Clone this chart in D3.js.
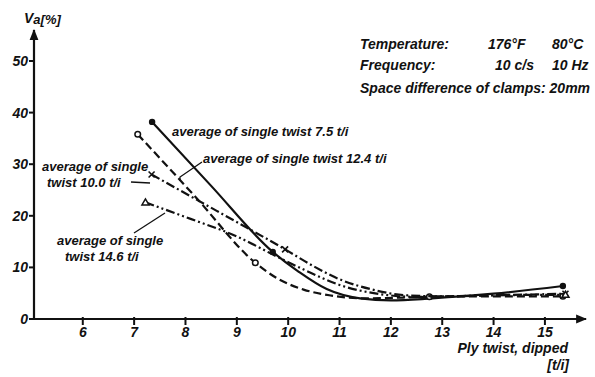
<!DOCTYPE html>
<html>
<head>
<meta charset="utf-8">
<script src="https://cdn.jsdelivr.net/npm/d3@7"></script>
<style>
  body { margin: 0; background: #fff; }
  svg { display: block; }
  text { font-family: "Liberation Sans", Arial, sans-serif; font-style: italic; font-weight: bold; fill: #111; }
</style>
</head>
<body>
<svg id="chart" width="595" height="377"></svg>
<script>
// ply twist ticks and Va ticks
var xTicks = [6, 7, 8, 9, 10, 11, 12, 13, 14, 15];
var yTicks = [0, 10, 20, 30, 40, 50];

// single twist 7.5 t/i  (solid, filled dot)
var s75x = [7.35, 8.5, 9.7, 10.2, 10.75, 11.4, 12.0, 12.8, 14.0, 15.35];
var s75y = [38.2, 25.8, 13.0, 9.2, 5.8, 4.0, 3.6, 4.0, 4.9, 6.4];
var s75mark = [0, 2, 9];

// single twist 12.4 t/i (dashed, open circle)
var s124x = [7.07, 8.2, 9.36, 9.8, 10.3, 10.8, 11.5, 12.75, 14.0, 15.35];
var s124y = [35.8, 23.6, 10.9, 7.8, 5.7, 4.6, 4.0, 4.3, 4.4, 4.4];
var s124mark = [0, 2, 7, 9];

// single twist 10.0 t/i (dash-dot, cross)
var s100x = [7.34, 8.6, 9.94, 10.5, 11.0, 11.6, 12.3, 13.0, 14.0, 15.4];
var s100y = [28.0, 21.0, 13.5, 10.2, 7.7, 5.8, 4.6, 4.4, 4.6, 4.9];
var s100mark = [0, 2, 9];

// single twist 14.6 t/i (dash-dot-dot, triangle)
var s146x = [7.22, 8.1, 9.0, 9.8, 10.3, 11.0, 11.8, 12.5, 14.0, 15.4];
var s146y = [22.6, 19.4, 16.0, 12.0, 9.6, 6.6, 4.8, 4.3, 4.6, 4.7];
var s146mark = [0, 9];

var svg = d3.select("#chart");

var x = d3.scaleLinear().domain([5.05, 15.8]).range([34, 586]);
var y = d3.scaleLinear().domain([0, 50]).range([319, 61]);

// arrow heads
var defs = svg.append("defs");
defs.append("marker")
    .attr("id", "arrow")
    .attr("viewBox", "0 0 10 10")
    .attr("refX", 9).attr("refY", 5)
    .attr("markerWidth", 5).attr("markerHeight", 5)
    .attr("orient", "auto")
  .append("path")
    .attr("d", "M0,1 L10,5 L0,9 Z")
    .attr("fill", "#111");

// axes lines
svg.append("line")
    .attr("x1", x(5.05)).attr("x2", x(5.05))
    .attr("y1", y(0)).attr("y2", y(56))
    .attr("stroke", "#111").attr("stroke-width", 2.2)
    .attr("marker-end", "url(#arrow)");
svg.append("line")
    .attr("x1", x(5.05)).attr("x2", x(15.8))
    .attr("y1", y(0)).attr("y2", y(0))
    .attr("stroke", "#111").attr("stroke-width", 2.2)
    .attr("marker-end", "url(#arrow)");

// y ticks
var yAxis = svg.append("g").classed("y-ticks", true);
yAxis.selectAll("line")
    .data(yTicks)
  .enter().append("line")
    .attr("x1", x(5.05) - 5)
    .attr("x2", d => d === 0 ? x(5.05) + 3 : x(5.05))
    .attr("y1", d => y(d)).attr("y2", d => y(d))
    .attr("stroke", "#111").attr("stroke-width", 2);
yAxis.selectAll("text")
    .data(yTicks)
  .enter().append("text")
    .text(d => d)
    .attr("x", x(5.05) - 6)
    .attr("y", d => y(d))
    .attr("dy", ".35em")
    .attr("text-anchor", "end")
    .attr("font-size", "14px");

// x ticks
var xAxis = svg.append("g").classed("x-ticks", true);
xAxis.selectAll("line")
    .data(xTicks)
  .enter().append("line")
    .attr("x1", d => x(d)).attr("x2", d => x(d))
    .attr("y1", y(0) - 2).attr("y2", y(0) + 6)
    .attr("stroke", "#111").attr("stroke-width", 2);
xAxis.selectAll("text")
    .data(xTicks)
  .enter().append("text")
    .text(d => d)
    .attr("x", d => x(d))
    .attr("y", y(0) + 13)
    .attr("dy", ".35em")
    .attr("text-anchor", "middle")
    .attr("font-size", "14px");

// axis titles
var yt = svg.append("text")
    .attr("x", 24).attr("y", 23)
    .attr("font-size", "14px");
yt.append("tspan").text("V");
yt.append("tspan").attr("font-size", "13px").attr("dy", 1).text("a[%]");

svg.append("text").text("Ply twist, dipped")
    .attr("x", 568).attr("y", 353)
    .attr("text-anchor", "end")
    .attr("font-size", "14px");
svg.append("text").text("[t/i]")
    .attr("x", 569).attr("y", 370)
    .attr("text-anchor", "end")
    .attr("font-size", "14px");

// test conditions
var cond = [
  ["Temperature:", "176\u00b0F", "80\u00b0C"],
  ["Frequency:", "10 c/s", "10 Hz"],
  ["Space difference of clamps:  20mm", "", ""]
];
var condG = svg.append("g").classed("conditions", true);
condG.selectAll("g")
    .data(cond)
  .enter().append("g")
    .each(function(d, i){
      var g = d3.select(this);
      var ty = [49, 70, 93][i];
      g.append("text").text(d[0]).attr("x", 360).attr("y", ty).attr("font-size", "14px");
      g.append("text").text(d[1]).attr("x", i === 0 ? 488 : 495).attr("y", ty).attr("font-size", "14px");
      g.append("text").text(d[2]).attr("x", 552).attr("y", ty).attr("font-size", "14px");
    });

// curves
var series = [
  { xs: s75x, ys: s75y, mark: s75mark, dash: null, sym: "dot" },
  { xs: s124x, ys: s124y, mark: s124mark, dash: "8,4", sym: "circle" },
  { xs: s100x, ys: s100y, mark: s100mark, dash: "9,3,2,3", sym: "cross" },
  { xs: s146x, ys: s146y, mark: s146mark, dash: "9,3,2,3,2,3", sym: "tri" }
];

var line = d3.line()
    .x(d => x(d[0]))
    .y(d => y(d[1]))
    .curve(d3.curveMonotoneX);

series.forEach(function(s){
  var pts = s.xs.map((v, i) => [v, s.ys[i]]);
  svg.append("path")
      .attr("d", line(pts))
      .attr("fill", "none")
      .attr("stroke", "#111")
      .attr("stroke-width", 2.2)
      .attr("stroke-dasharray", s.dash);

  var mk = svg.append("g");
  s.mark.forEach(function(i){
    var px = x(s.xs[i]), py = y(s.ys[i]);
    if (s.sym === "dot") {
      mk.append("circle").attr("cx", px).attr("cy", py).attr("r", 3.2).attr("fill", "#111");
    } else if (s.sym === "circle") {
      mk.append("circle").attr("cx", px).attr("cy", py).attr("r", 2.8)
        .attr("fill", "#fff").attr("stroke", "#111").attr("stroke-width", 1.5);
    } else if (s.sym === "cross") {
      mk.append("path").attr("d", `M${px-3},${py-3}L${px+3},${py+3}M${px-3},${py+3}L${px+3},${py-3}`)
        .attr("stroke", "#111").attr("stroke-width", 1.6);
    } else {
      mk.append("path").attr("d", `M${px},${py-3.5}L${px+3.5},${py+2.5}L${px-3.5},${py+2.5}Z`)
        .attr("fill", "#fff").attr("stroke", "#111").attr("stroke-width", 1.5);
    }
  });
});

// curve labels with leader lines
var labels = [
  { lines: ["average of single twist 7.5 t/i"], x: 172, y: 136, lead: null },
  { lines: ["average of single twist  12.4 t/i"], x: 203, y: 163, lead: [[202, 162], [180, 177], [180, 181]] },
  { lines: ["average of single", "twist  10.0 t/i"], x: [42, 47], y: 171, lead: [[131, 182], [150, 183]] },
  { lines: ["average of single", "twist  14.6 t/i"], x: [57, 65], y: 245, lead: [[134, 233], [165, 213]] }
];
labels.forEach(function(l){
  l.lines.forEach(function(t, i){
    svg.append("text").text(t)
        .attr("x", Array.isArray(l.x) ? l.x[i] : l.x)
        .attr("y", l.y + i * 16)
        .attr("font-size", "13px");
  });
  if (l.lead) {
    svg.append("path")
        .attr("d", d3.line()(l.lead))
        .attr("fill", "none")
        .attr("stroke", "#111")
        .attr("stroke-width", 1.3);
  }
});
</script>
</body>
</html>
